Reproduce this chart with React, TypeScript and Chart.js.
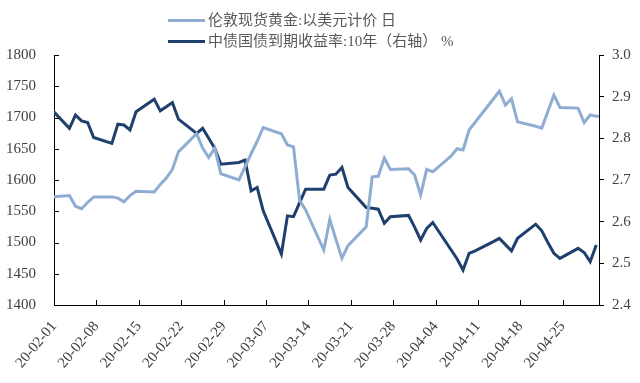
import React, { useEffect, useRef } from 'react';
import { Chart, registerables } from 'chart.js';

Chart.register(...registerables);

const START = '2020-02-01';
const tickLabels = ['20-02-01', '20-02-08', '20-02-15', '20-02-22', '20-02-29', '20-03-07', '20-03-14', '20-03-21', '20-03-28', '20-04-04', '20-04-11', '20-04-18', '20-04-25'];

const seriesNames = ['伦敦现货黄金:以美元计价 日', '中债国债到期收益率:10年（右轴） %'];

const goldDates = ['2020-01-31', '2020-02-03', '2020-02-04', '2020-02-05', '2020-02-06', '2020-02-07', '2020-02-10', '2020-02-11', '2020-02-12', '2020-02-13', '2020-02-14', '2020-02-17', '2020-02-18', '2020-02-19', '2020-02-20', '2020-02-21', '2020-02-24', '2020-02-25', '2020-02-26', '2020-02-27', '2020-02-28', '2020-03-02', '2020-03-03', '2020-03-04', '2020-03-05', '2020-03-06', '2020-03-09', '2020-03-10', '2020-03-11', '2020-03-12', '2020-03-13', '2020-03-16', '2020-03-17', '2020-03-18', '2020-03-19', '2020-03-20', '2020-03-23', '2020-03-24', '2020-03-25', '2020-03-26', '2020-03-27', '2020-03-30', '2020-03-31', '2020-04-01', '2020-04-02', '2020-04-03', '2020-04-06', '2020-04-07', '2020-04-08', '2020-04-09', '2020-04-14', '2020-04-15', '2020-04-16', '2020-04-17', '2020-04-20', '2020-04-21', '2020-04-23', '2020-04-24', '2020-04-27', '2020-04-28', '2020-04-29', '2020-04-30', '2020-05-01'];
const goldValues = [1573, 1575, 1558, 1554, 1564, 1573, 1573, 1571, 1565, 1575, 1582, 1581, 1593, 1603, 1617, 1645, 1674, 1651, 1636, 1651, 1610, 1600, 1621, 1642, 1662, 1684, 1674, 1656, 1653, 1568, 1552, 1488, 1537, 1505, 1475, 1495, 1525, 1605, 1606, 1635, 1617, 1618, 1608, 1576, 1617, 1613, 1638, 1650, 1648, 1680, 1742, 1720, 1730, 1693, 1686, 1683, 1736, 1716, 1715, 1692, 1704, 1702, 1702];

const yieldDates = ['2020-01-31', '2020-02-03', '2020-02-04', '2020-02-05', '2020-02-06', '2020-02-07', '2020-02-10', '2020-02-11', '2020-02-12', '2020-02-13', '2020-02-14', '2020-02-17', '2020-02-18', '2020-02-19', '2020-02-20', '2020-02-21', '2020-02-24', '2020-02-25', '2020-02-26', '2020-02-27', '2020-02-28', '2020-03-02', '2020-03-03', '2020-03-04', '2020-03-05', '2020-03-06', '2020-03-09', '2020-03-10', '2020-03-11', '2020-03-12', '2020-03-13', '2020-03-16', '2020-03-17', '2020-03-18', '2020-03-19', '2020-03-20', '2020-03-23', '2020-03-24', '2020-03-25', '2020-03-26', '2020-03-27', '2020-03-30', '2020-03-31', '2020-04-01', '2020-04-02', '2020-04-03', '2020-04-07', '2020-04-08', '2020-04-09', '2020-04-10', '2020-04-13', '2020-04-14', '2020-04-15', '2020-04-16', '2020-04-17', '2020-04-20', '2020-04-21', '2020-04-22', '2020-04-23', '2020-04-24', '2020-04-27', '2020-04-28', '2020-04-29', '2020-04-30'];
const yieldValues = [2.870, 2.824, 2.856, 2.842, 2.838, 2.802, 2.788, 2.834, 2.832, 2.820, 2.864, 2.894, 2.866, 2.876, 2.886, 2.846, 2.812, 2.824, 2.800, 2.776, 2.738, 2.742, 2.748, 2.674, 2.682, 2.626, 2.522, 2.614, 2.612, 2.645, 2.678, 2.678, 2.712, 2.714, 2.730, 2.682, 2.634, 2.632, 2.630, 2.596, 2.612, 2.615, 2.587, 2.556, 2.584, 2.598, 2.511, 2.484, 2.524, 2.530, 2.552, 2.560, 2.545, 2.530, 2.560, 2.594, 2.578, 2.550, 2.524, 2.512, 2.536, 2.526, 2.504, 2.544];

const GOLD_COLOR = '#8fadd3';
const YIELD_COLOR = '#1f3f6c';
const FONT = '"Liberation Serif", "Times New Roman", serif';
const LEGEND_FONT = '"Liberation Serif", "Noto Sans CJK SC", serif';

const dayPos = (d: string) => (Date.parse(d) - Date.parse(START)) / 86400000 + 0.55;

const inwardTicks = {
  id: 'inwardTicks',
  afterDraw(chart: any) {
    const { ctx, chartArea, scales } = chart;
    ctx.save();
    ctx.strokeStyle = '#000';
    ctx.lineWidth = 1;
    const y = scales.y;
    y.ticks.forEach((t: any) => {
      const py = Math.round(y.getPixelForValue(t.value)) + 0.5;
      ctx.beginPath();
      ctx.moveTo(chartArea.left, py);
      ctx.lineTo(chartArea.left + 5, py);
      ctx.stroke();
    });
    const x = scales.x;
    x.ticks.forEach((t: any) => {
      const px = Math.round(x.getPixelForValue(t.value)) + 0.5;
      ctx.beginPath();
      ctx.moveTo(px, chartArea.bottom);
      ctx.lineTo(px, chartArea.bottom - 5);
      ctx.stroke();
    });
    ctx.restore();
  },
};

export default function App() {
  const ref = useRef<HTMLCanvasElement | null>(null);

  useEffect(() => {
    if (!ref.current) return;
    const chart = new Chart(ref.current, {
      type: 'line',
      data: {
        datasets: [
          {
            label: seriesNames[0],
            data: goldDates.map((d, i) => ({ x: dayPos(d), y: goldValues[i] })),
            borderColor: GOLD_COLOR,
            backgroundColor: GOLD_COLOR,
            borderWidth: 3,
            pointRadius: 0,
            tension: 0,
            yAxisID: 'y',
          },
          {
            label: seriesNames[1],
            data: yieldDates.map((d, i) => ({ x: dayPos(d), y: yieldValues[i] })),
            borderColor: YIELD_COLOR,
            backgroundColor: YIELD_COLOR,
            borderWidth: 3,
            pointRadius: 0,
            tension: 0,
            yAxisID: 'y1',
          },
        ],
      },
      options: {
        responsive: false,
        animation: false,
        layout: { padding: { top: 55, left: 0, right: 0, bottom: 0 } },
        plugins: { legend: { display: false }, tooltip: { enabled: false } },
        scales: {
          x: {
            type: 'linear',
            min: 0,
            max: 90,
            afterBuildTicks: (s: any) => {
              s.ticks = tickLabels.map((_, i) => ({ value: i * 7 }));
            },
            afterFit: (s: any) => {
              s.height = 78;
            },
            grid: { display: false, drawTicks: false },
            border: { display: true, color: '#000', width: 1 },
            ticks: {
              autoSkip: false,
              maxRotation: 50,
              minRotation: 50,
              padding: 13,
              color: '#404040',
              font: { family: FONT, size: 15 },
              callback: (v: any) => tickLabels[Math.round(Number(v) / 7)] ?? '',
            },
          },
          y: {
            position: 'left',
            min: 1400,
            max: 1800,
            afterFit: (s: any) => {
              s.width = 54;
            },
            grid: { display: false, drawTicks: false },
            border: { display: true, color: '#000', width: 1 },
            ticks: {
              stepSize: 50,
              padding: 18,
              color: '#404040',
              font: { family: FONT, size: 15 },
              callback: (v: any) => String(v),
            },
          },
          y1: {
            position: 'right',
            min: 2.4,
            max: 3.0,
            afterFit: (s: any) => {
              s.width = 41;
            },
            grid: { display: true, drawOnChartArea: false, drawTicks: true, tickLength: 5, color: '#000' },
            border: { display: true, color: '#000', width: 1 },
            ticks: {
              stepSize: 0.1,
              padding: 8,
              color: '#404040',
              font: { family: FONT, size: 15 },
              callback: (v: any) => Number(v).toFixed(1),
            },
          },
        },
      },
      plugins: [inwardTicks],
    });
    return () => chart.destroy();
  }, []);

  const legendRow = (color: string, text: string, top: number) => (
    <div style={{ position: 'absolute', left: 168, top, height: 20, display: 'flex', alignItems: 'center' }}>
      <div style={{ width: 37, height: 3, background: color, marginRight: 3 }} />
      <span style={{ fontFamily: LEGEND_FONT, fontSize: 15, color: '#595959', whiteSpace: 'nowrap', lineHeight: '20px' }}>{text}</span>
    </div>
  );

  return (
    <div style={{ position: 'fixed', left: 0, top: 0, width: 640, height: 383, background: '#fff' }}>
      <canvas ref={ref} width={640} height={383} style={{ display: 'block', width: 640, height: 383 }} />
      {legendRow(GOLD_COLOR, seriesNames[0], 10)}
      {legendRow(YIELD_COLOR, seriesNames[1], 31)}
    </div>
  );
}
